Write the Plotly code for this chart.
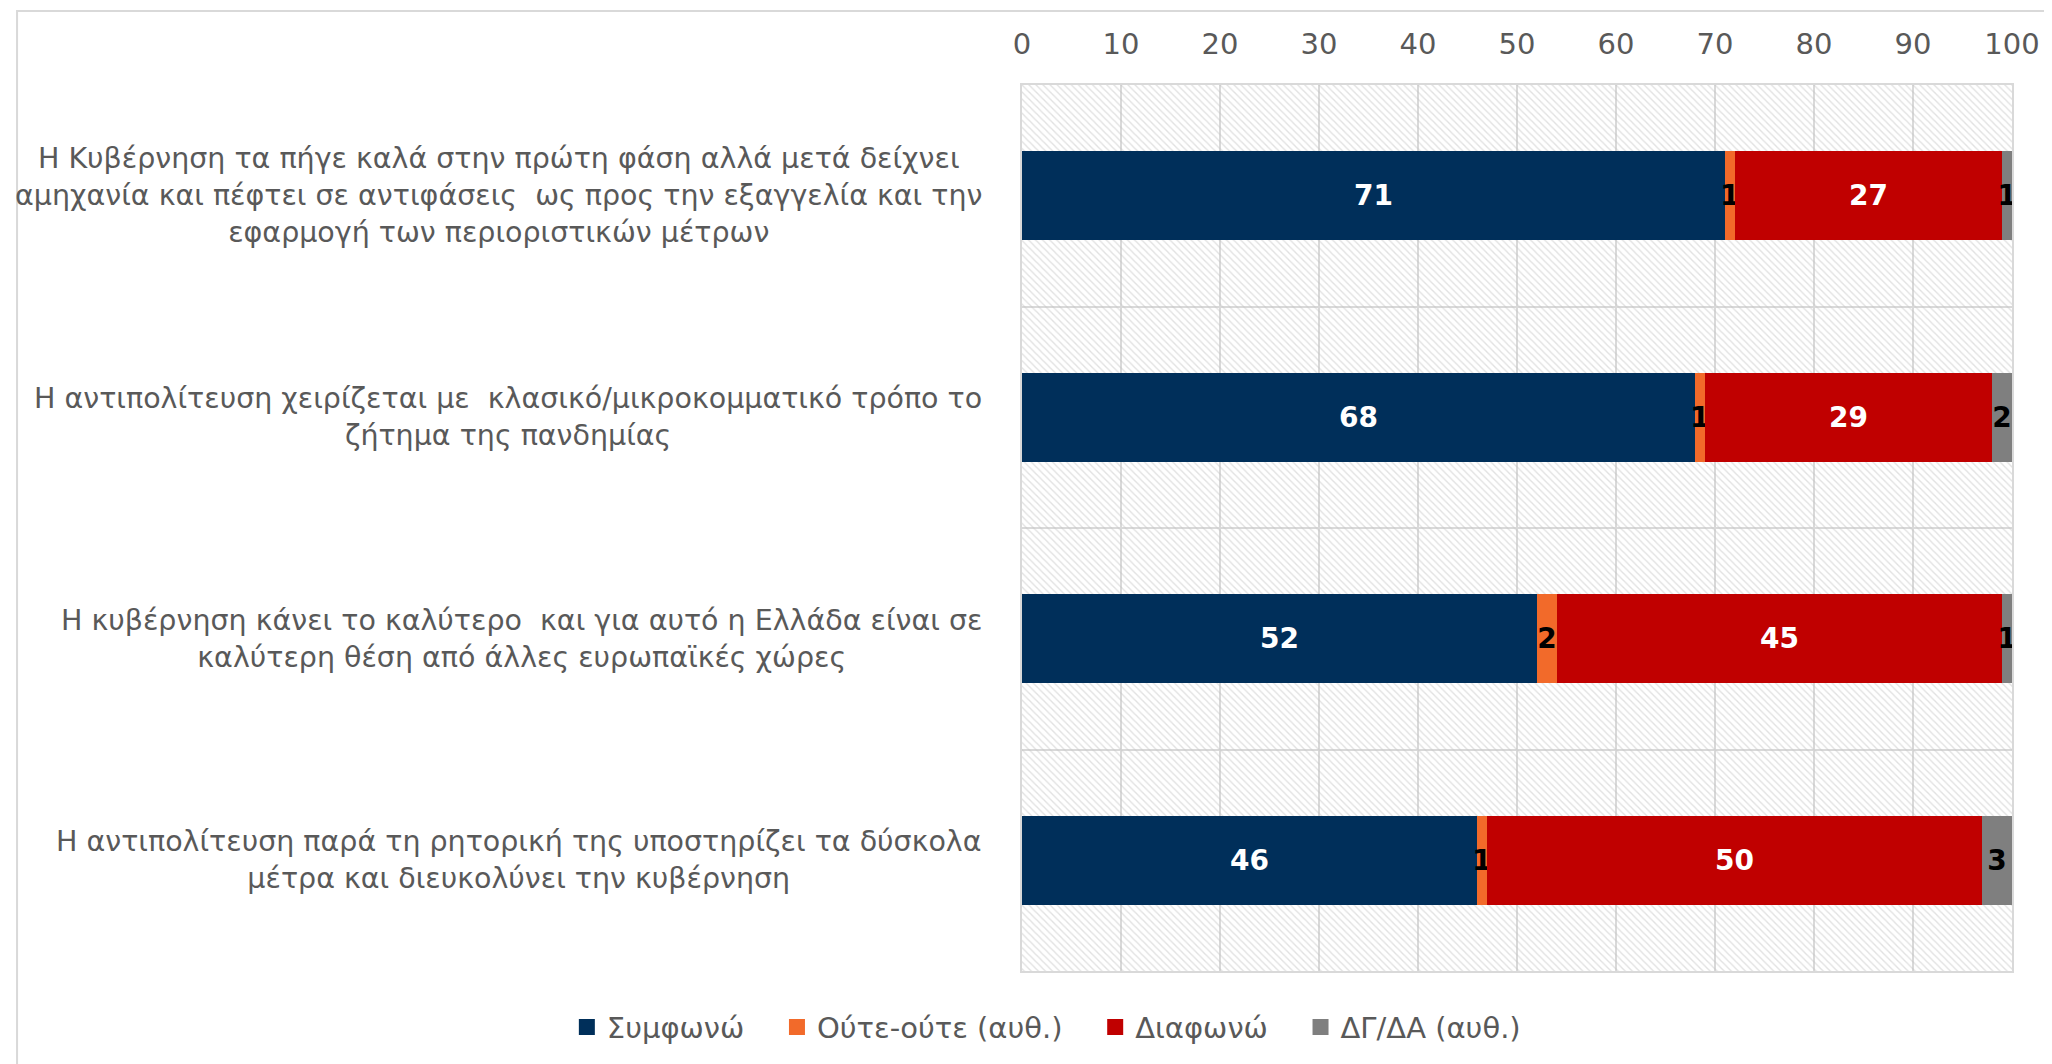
import numpy as np
import plotly.graph_objects as go

categories = [
    "Η Κυβέρνηση τα πήγε καλά στην πρώτη φάση αλλά μετά δείχνει<br>αμηχανία και πέφτει σε αντιφάσεις  ως προς την εξαγγελία και την<br>εφαρμογή των περιοριστικών μέτρων",
    "Η αντιπολίτευση χειρίζεται με  κλασικό/μικροκομματικό τρόπο το<br>ζήτημα της πανδημίας",
    "Η κυβέρνηση κάνει το καλύτερο  και για αυτό η Ελλάδα είναι σε<br>καλύτερη θέση από άλλες ευρωπαϊκές χώρες",
    "Η αντιπολίτευση παρά τη ρητορική της υποστηρίζει τα δύσκολα<br>μέτρα και διευκολύνει την κυβέρνηση",
]
series_names = ["Συμφωνώ", "Ούτε-ούτε (αυθ.)", "Διαφωνώ", "ΔΓ/ΔΑ (αυθ.)"]
agree = [71, 68, 52, 46]
neither = [1, 1, 2, 1]
disagree = [27, 29, 45, 50]
dk = [1, 2, 1, 3]
x_ticks = [0, 10, 20, 30, 40, 50, 60, 70, 80, 90, 100]

colors = ["#002f5a", "#f26a2a", "#c00000", "#7f7f7f"]
text_colors = ["white", "black", "white", "black"]
FONT = "DejaVu Sans"
GRAY = "#595959"
GRID = "#d9d9d9"

ypos = np.arange(len(categories))
values = np.array([agree, neither, disagree, dk], dtype=float)
bases = np.vstack([np.zeros(len(categories)), np.cumsum(values, axis=0)[:-1]])

fig = go.Figure()

# hatched plot-area background
fig.add_trace(go.Bar(
    y=ypos, x=[x_ticks[-1]] * len(categories), base=0, orientation="h", width=1.0,
    marker=dict(color="rgba(255,255,255,0)", line=dict(width=0),
                pattern=dict(shape="\\", fgcolor="#c4c4c4", size=5, solidity=0.28)),
    showlegend=False, hoverinfo="skip",
))

for i, name in enumerate(series_names):
    fig.add_trace(go.Bar(
        y=ypos, x=values[i], base=bases[i], orientation="h", name=name, width=0.4,
        marker=dict(color=colors[i], line=dict(width=0)),
        text=[f"{v:g}" for v in values[i]], textposition="inside",
        insidetextanchor="middle", constraintext="none", textangle=0,
        textfont=dict(family=FONT, size=28, color=text_colors[i], weight="bold"),
        showlegend=False,
    ))

# legend entries with larger square swatches (extra spacing between entries)
PAD = "\u00a0\u00a0\u00a0"
for i, name in enumerate(series_names):
    label = name + (PAD if i < len(series_names) - 1 else "")
    fig.add_trace(go.Scatter(
        x=[None], y=[None], mode="markers", name=label,
        marker=dict(symbol="square", size=17, color=colors[i]),
        showlegend=True, hoverinfo="skip",
    ))

for yp, cat in zip(ypos, categories):
    fig.add_annotation(
        x=0, xref="paper", y=yp, yref="y", text=cat, showarrow=False,
        xanchor="right", yanchor="middle", align="center", xshift=-38,
        font=dict(family=FONT, size=28.5, color=GRAY),
    )

# chart frame
fig.add_shape(type="rect", xref="paper", yref="paper",
              x0=-1.0151, x1=1.3, y0=-0.3, y1=1.0835,
              line=dict(color=GRID, width=2), layer="below")

fig.update_layout(
    width=2044, height=1056,
    margin=dict(l=1014, r=34, t=77, b=93),
    barmode="overlay",
    plot_bgcolor="white", paper_bgcolor="white",
    font=dict(family=FONT, size=29, color=GRAY),
    legend=dict(orientation="h", x=0.508, xref="container", xanchor="center",
                y=0.035, yref="container", yanchor="middle",
                font=dict(family=FONT, size=29, color=GRAY),
                itemwidth=30, tracegroupgap=0, traceorder="normal"),
    xaxis=dict(range=[0, 100], side="top", tickvals=x_ticks, showgrid=True,
               gridcolor=GRID, gridwidth=2, zeroline=False, showline=True,
               linecolor=GRID, linewidth=2, mirror=True, ticks="",
               ticklabelstandoff=17,
               tickfont=dict(family=FONT, size=29, color=GRAY)),
    yaxis=dict(range=[len(categories) - 0.5, -0.5], tickvals=list(ypos),
               showticklabels=False, showgrid=False, zeroline=False,
               showline=True, linecolor=GRID, linewidth=2, mirror=True,
               minor=dict(tick0=0.5, dtick=1, showgrid=True, gridcolor=GRID,
                          gridwidth=2, ticks="")),
    bargap=0,
)

fig.write_html("out.html")
